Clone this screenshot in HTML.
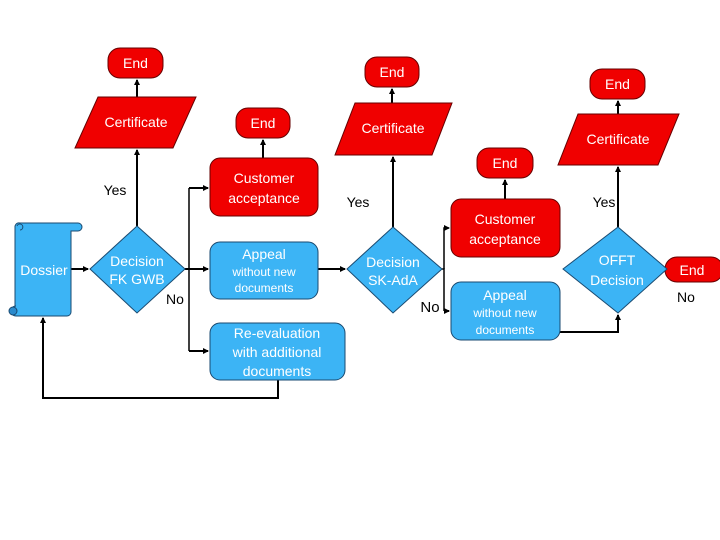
<!DOCTYPE html>
<html><head><meta charset="utf-8"><style>
html,body{margin:0;padding:0;background:#fff;width:720px;height:540px;overflow:hidden}
svg{display:block}
text{font-family:"Liberation Sans",sans-serif;text-anchor:middle}
.r{fill:#f00000;stroke:#600;stroke-width:1}
.b{fill:#3cb4f5;stroke:#1a4a70;stroke-width:1}
.w{fill:#fff;font-size:14px}
.ws{fill:#fff;font-size:12px}
.k{fill:#000;font-size:14px}
.l{stroke:#000;stroke-width:2;fill:none}
</style></head><body>
<svg width="720" height="540" viewBox="0 0 720 540">
<defs><marker id="a" markerWidth="6" markerHeight="6" refX="5" refY="3" orient="auto" markerUnits="userSpaceOnUse"><path d="M0,0 L6,3 L0,6z" fill="#000"/></marker></defs>

<!-- connectors -->
<path class="l" d="M137,97 V80" marker-end="url(#a)"/>
<path class="l" d="M137,226 V150" marker-end="url(#a)"/>
<path class="l" d="M71,269 H88" marker-end="url(#a)"/>
<path class="l" d="M185,269 H189"/>
<path class="l" style="stroke-width:1.5" d="M189,188 V351"/>
<path class="l" d="M189,188 H208" marker-end="url(#a)"/>
<path class="l" d="M189,269 H208" marker-end="url(#a)"/>
<path class="l" d="M189,351 H208" marker-end="url(#a)"/>
<path class="l" d="M263,158 V140" marker-end="url(#a)"/>
<path class="l" d="M318,269 H345" marker-end="url(#a)"/>
<path class="l" d="M278,380 V398 H43 V318" marker-end="url(#a)"/>
<path class="l" d="M392,103 V89" marker-end="url(#a)"/>
<path class="l" d="M393,227 V157" marker-end="url(#a)"/>
<path class="l" style="stroke-width:1.5" d="M442,269 H444 V311"/>
<path class="l" style="stroke-width:1.5" d="M444,269 V228 H449" marker-end="url(#a)"/>
<path class="l" d="M444,311 H449" marker-end="url(#a)"/>
<path class="l" d="M505,199 V180" marker-end="url(#a)"/>
<path class="l" d="M560,332 H618 V315" marker-end="url(#a)"/>
<path class="l" d="M618,227 V167" marker-end="url(#a)"/>
<path class="l" d="M618,114 V101" marker-end="url(#a)"/>

<!-- red End boxes -->
<rect class="r" x="108" y="48" width="55" height="30" rx="12"/><text class="w" x="135.5" y="68">End</text>
<rect class="r" x="236" y="108" width="54" height="30" rx="12"/><text class="w" x="263" y="128">End</text>
<rect class="r" x="365" y="57" width="54" height="30" rx="12"/><text class="w" x="392" y="77">End</text>
<rect class="r" x="477" y="148" width="56" height="30" rx="12"/><text class="w" x="505" y="168">End</text>
<rect class="r" x="590" y="69" width="55" height="30" rx="12"/><text class="w" x="617.5" y="89">End</text>
<rect class="r" x="665" y="257" width="58" height="25" rx="12"/><text class="w" x="692" y="275">End</text>

<!-- certificates -->
<polygon class="r" points="98,97 196,97 173,148 75,148"/><text class="w" x="136" y="127">Certificate</text>
<polygon class="r" points="355,103 452,103 432,155 335,155"/><text class="w" x="393" y="133">Certificate</text>
<polygon class="r" points="578,114 679,114 658,165 558,165"/><text class="w" x="618" y="144">Certificate</text>

<!-- customer acceptance -->
<rect class="r" x="210" y="158" width="108" height="58" rx="10"/><text class="w" x="264" y="183">Customer</text><text class="w" x="264" y="203">acceptance</text>
<rect class="r" x="451" y="199" width="109" height="58" rx="10"/><text class="w" x="505" y="224">Customer</text><text class="w" x="505" y="244">acceptance</text>

<!-- blue boxes -->
<rect class="b" x="210" y="242" width="108" height="57" rx="10"/><text class="w" x="264" y="259">Appeal</text><text class="ws" x="264" y="276">without new</text><text class="ws" x="264" y="292">documents</text>
<rect class="b" x="210" y="323" width="135" height="57" rx="10"/><text class="w" x="277" y="338">Re-evaluation</text><text class="w" x="277" y="357">with additional</text><text class="w" x="277" y="376">documents</text>
<rect class="b" x="451" y="282" width="109" height="58" rx="10"/><text class="w" x="505" y="300">Appeal</text><text class="ws" x="505" y="317">without new</text><text class="ws" x="505" y="334">documents</text>

<!-- dossier scroll -->
<path class="b" d="M20,223 H78 a4,4 0 0 1 0,8 H71 V312 a4,4 0 0 1 -4,4 H16 a5,5 0 0 1 0,-10 H15 V226 a4,4 0 0 1 5,-3z"/>
<path d="M17,226 a3,3 0 1 1 3,4" fill="none" stroke="#1a4a70" stroke-width="1"/>
<circle cx="13" cy="311" r="4" fill="#2a8acc" stroke="#1a4a70" stroke-width="1"/>
<text class="w" x="44" y="275">Dossier</text>

<!-- diamonds -->
<polygon class="b" points="137,226 185,269 137,313 90,269"/><text class="w" x="137" y="266">Decision</text><text class="w" x="137" y="284">FK GWB</text>
<polygon class="b" points="393,227 442,269 393,313 347,269"/><text class="w" x="393" y="267">Decision</text><text class="w" x="393" y="285">SK-AdA</text>
<polygon class="b" points="618,227 667,269 618,313 563,269"/><text class="w" x="617" y="265">OFFT</text><text class="w" x="617" y="285">Decision</text>

<!-- labels -->
<text class="k" x="115" y="195">Yes</text>
<text class="k" x="175" y="304">No</text>
<text class="k" x="358" y="207">Yes</text>
<text class="k" x="430" y="312" style="font-size:15px">No</text>
<text class="k" x="604" y="207">Yes</text>
<text class="k" x="686" y="302">No</text>
</svg>
</body></html>
